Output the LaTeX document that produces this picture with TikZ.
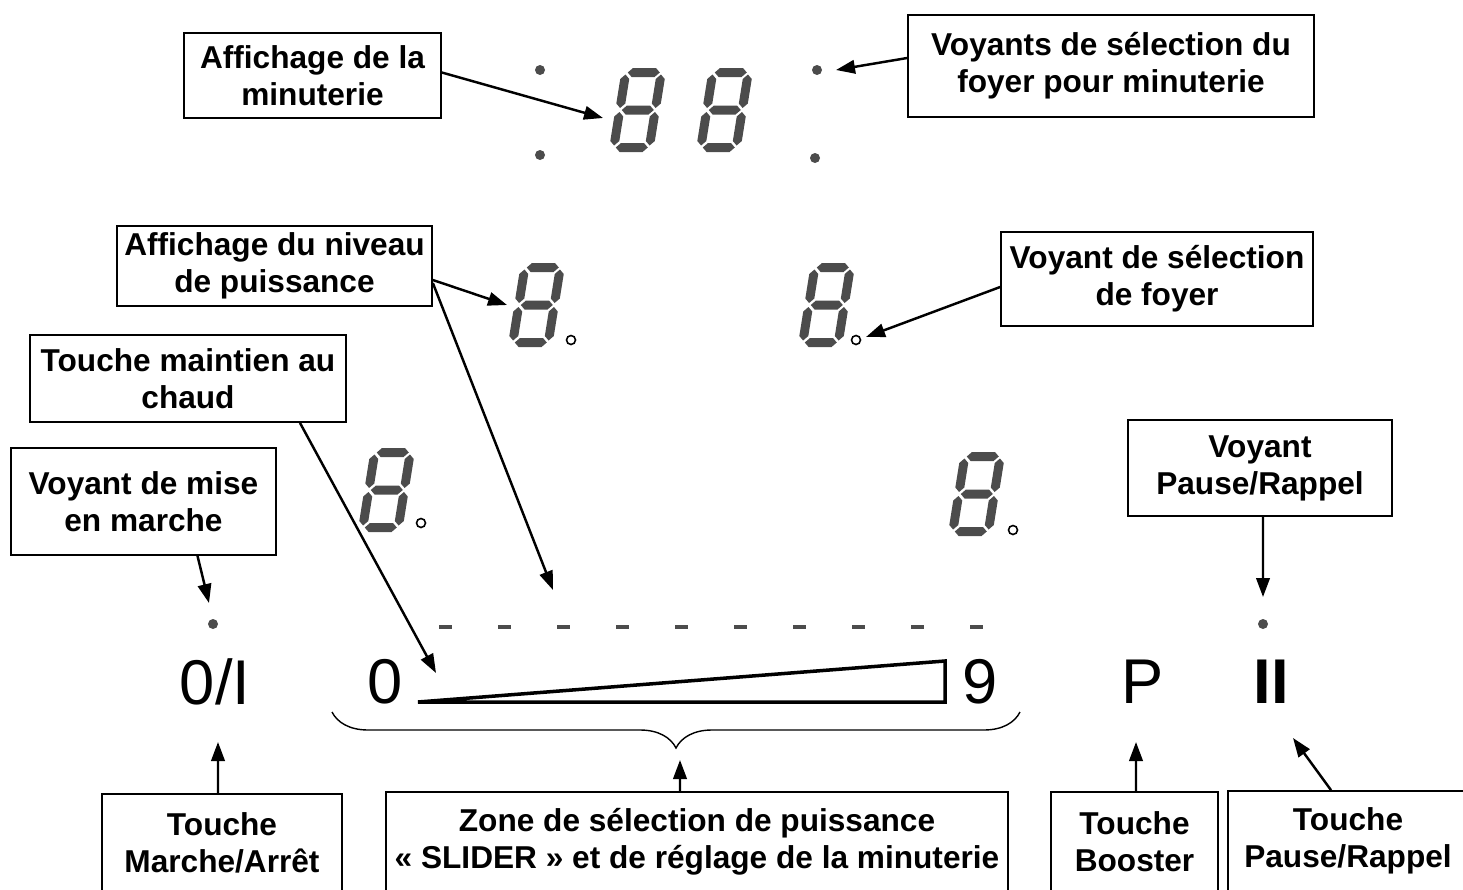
\documentclass[tikz,border=0pt]{standalone}
\usepackage{fontspec}
\setmainfont{Liberation Sans}
\usetikzlibrary{arrows.meta,decorations.pathreplacing}

% one segment of a display, horizontal or vertical
\newcommand{\hseg}[3]{\fill[seg] (#1,#3) -- ({#1+4.5},{#3-4.5}) -- ({#2-4.5},{#3-4.5}) -- (#2,#3) -- ({#2-4.5},{#3+4.5}) -- ({#1+4.5},{#3+4.5}) -- cycle;}
\newcommand{\vseg}[3]{\fill[seg] (#1,#2) -- ({#1+4.5},{#2+4.5}) -- ({#1+4.5},{#3-4.5}) -- (#1,#3) -- ({#1-4.5},{#3-4.5}) -- ({#1-4.5},{#2+4.5}) -- cycle;}
% a slanted seven-segment digit, top left corner at (#1,#2)
\newcommand{\segdigit}[2]{%
\begin{scope}[shift={(#1,#2)},xslant=0.16]
\hseg{6.5}{38.5}{4.5} \hseg{6.5}{38.5}{42} \hseg{6.5}{38.5}{79.5}
\vseg{4.5}{6.5}{40} \vseg{40}{6.5}{40} \vseg{4.5}{44}{77.5} \vseg{40}{44}{77.5}
\end{scope}}

\begin{document}
\begin{tikzpicture}[x=0.02cm,y=-0.02cm,
  seg/.style={fill=black!70},
  led/.style={fill=black!70},
  lbl/.style={draw=black,line width=1pt,align=center,inner sep=0pt,font=\bfseries\fontsize{18}{21}\selectfont},
  big/.style={inner sep=0pt,font=\fontsize{36}{40}\selectfont},
  pt/.style={-{Triangle[length=0.38cm,width=0.27cm]},line width=1.4pt}]
\useasboundingbox (0,0) rectangle (1463,889);

% displays
\segdigit{622}{68} \segdigit{709}{68}
\segdigit{521}{263} \segdigit{811}{263}
\segdigit{371}{448} \segdigit{961}{452}
\foreach \x/\y in {571/340,856/340,421/523,1013/530}
  \draw[line width=0.9pt] (\x,\y) circle[radius=0.09cm];
\foreach \x/\y in {540/70,540/155,817/70,815/158,213/624,1263/624}
  \fill[led] (\x,\y) circle[radius=0.1cm];
\foreach \i in {0,...,9}
  \fill[led] ({439+59*\i},625) rectangle ++(13,4);

% slider and keys
\draw[line width=2pt] (418,702) -- (945,702) -- (945,661) -- cycle;
\node[big] (K0) at (385,682) {0};
\node[big] (K9) at (980,682) {9};
\node[big] (KI) at (215,682) {0/I};
\node[big] (KP) at (1143,682) {P};
\node[big,font=\bfseries\fontsize{36}{40}\selectfont] (KII) at (1271,682) {II};
\draw[line width=0.8pt,decorate,decoration={brace,mirror,amplitude=0.72cm}] (332,712) -- (1020,712);

% labels
\node[lbl,minimum width=5.14cm,minimum height=1.70cm] (B1) at (312.5,75.5) {Affichage de la\\minuterie};
\node[lbl,minimum width=8.12cm,minimum height=2.04cm] (B2) at (1111,66) {Voyants de sélection du\\foyer pour minuterie};
\node[lbl,minimum width=6.30cm,minimum height=1.60cm] (B3) at (274.5,266) {Affichage du niveau\\de puissance};
\node[lbl,minimum width=6.24cm,minimum height=1.88cm] (B4) at (1157,279) {Voyant de sélection\\de foyer};
\node[lbl,minimum width=6.32cm,minimum height=1.74cm] (B5) at (188,378.5) {Touche maintien au\\chaud};
\node[lbl,minimum width=5.30cm,minimum height=2.14cm] (B6) at (143.5,501.5) {Voyant de mise\\en marche};
\node[lbl,minimum width=5.28cm,minimum height=1.92cm] (B7) at (1260,468) {Voyant\\Pause/Rappel};
\node[lbl,minimum width=4.80cm,minimum height=1.94cm] (B8) at (222,842.5) {Touche\\Marche/Arrêt};
\node[lbl,minimum width=12.44cm,minimum height=2.00cm] (B9) at (697,842) {Zone de sélection de puissance\\« SLIDER » et de réglage de la minuterie};
\node[lbl,minimum width=3.34cm,minimum height=2.00cm] (B10) at (1134.5,842) {Touche\\Booster};
\node[lbl,minimum width=4.80cm,minimum height=2.00cm] (B11) at (1348,841) {Touche\\Pause/Rappel};

% arrow ends
\coordinate (A1) at (603,118);
\coordinate (A2) at (836,70);
\coordinate (A3) at (507,305);
\coordinate (A4) at (553,590);
\coordinate (A5) at (866,337);
\coordinate (A6) at (436,673);
\coordinate (A7) at (209,603);
\coordinate (A8) at (1263,597);
\coordinate (A9) at (218,742);
\coordinate (A10) at (680,760);
\coordinate (A11) at (1136,742);
\coordinate (A12) at (1293,738);

\draw[pt] ([yshift=0.06cm]B1.east) -- (A1);
\draw[pt] ([yshift=0.16cm]B2.west) -- (A2);
\draw[pt] ([yshift=-0.28cm]B3.east) -- (A3);
\draw[pt] ([yshift=-0.34cm]B3.east) -- (A4);
\draw[pt] ([yshift=-0.16cm]B4.west) -- (A5);
\draw[pt] ([xshift=2.24cm]B5.south) -- (A6);
\draw[pt] ([xshift=1.08cm]B6.south) -- (A7);
\draw[pt] ([xshift=0.06cm]B7.south) -- (A8);
\draw[pt] ([xshift=-0.08cm]B8.north) -- (A9);
\draw[pt] ([xshift=-0.34cm]B9.north) -- (A10);
\draw[pt] ([xshift=0.03cm]B10.north) -- (A11);
\draw[pt] ([xshift=-0.34cm]B11.north) -- (A12);
\end{tikzpicture}
\end{document}
